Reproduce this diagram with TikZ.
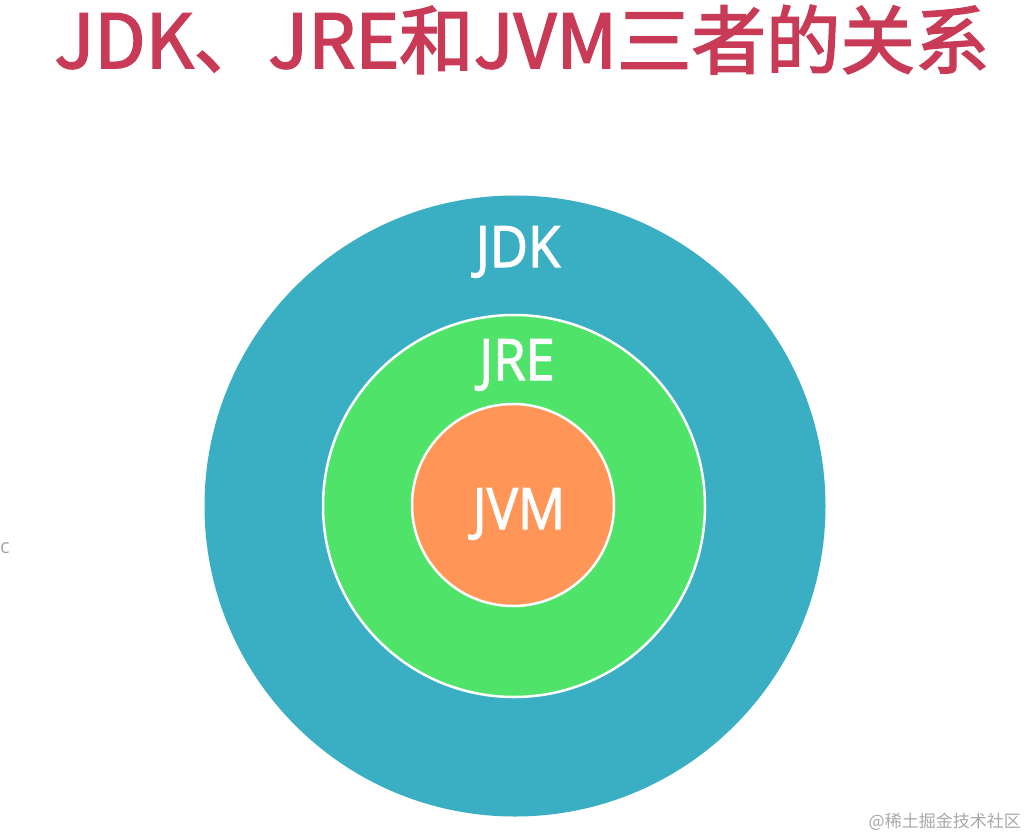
\documentclass[tikz,border=0pt]{standalone}
\usepackage{fontspec}
\newfontfamily\cjk{Noto Sans CJK SC}
\newfontfamily\cjkm[FakeBold=2.2]{Noto Sans CJK SC}
\newfontfamily\lab[FakeBold=2]{Open Sans}
\newfontfamily\labplain{Open Sans}
\definecolor{titlered}{HTML}{C83A55}
\definecolor{jdkblue}{HTML}{3AAFC3}
\definecolor{jregreen}{HTML}{50E36A}
\definecolor{jvmorange}{HTML}{FF9556}
\definecolor{wmgray}{HTML}{A8A8A8}
\newcommand{\squeeze}[1]{\scalebox{0.92}[1]{#1}}
\tikzset{
  ring/.style={circle, inner sep=0pt, draw=white, line width=2.5pt},
  lbl/.style={text=white, font=\lab\fontsize{57}{64}\selectfont, inner sep=0pt, anchor=base},
}
\begin{document}
\begin{tikzpicture}[x=1pt,y=-1pt]
\useasboundingbox[fill=white] (0,0) rectangle (1034,836);
\node[anchor=base, text=titlered, font=\cjkm\fontsize{74.5}{80}\selectfont, inner sep=0pt] (title) at (522,68) {JDK、JRE和JVM三者的关系};
\node[ring, fill=jdkblue, draw=none, minimum size=621pt] (jdk) at (515,506) {};
\node[ring, fill=jregreen, minimum size=382pt] (jre) at (514,506) {};
\node[ring, fill=jvmorange, minimum size=202pt] (jvm) at (513,505) {};
\node[lbl] (jdklbl) at (518,267) {\squeeze{JDK}};
\node[lbl] (jrelbl) at (517,380) {\squeeze{JRE}};
\node[lbl] (jvmlbl) at (519,529) {\squeeze{JVM}};
\node[anchor=base west, text=wmgray, font=\labplain\fontsize{20}{22}\selectfont, inner sep=0pt] (c) at (0,553) {c};
\node[anchor=base east, text=wmgray, font=\cjk\fontsize{17}{20}\selectfont, inner sep=0pt] (wm) at (1021,827) {@稀土掘金技术社区};
\end{tikzpicture}
\end{document}
